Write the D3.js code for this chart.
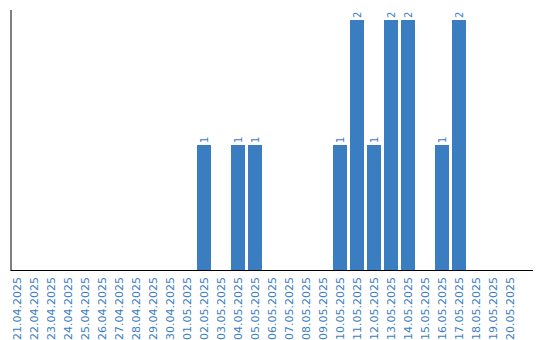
<!DOCTYPE html>
<html>
<head>
<meta charset="utf-8">
<script src="https://cdn.jsdelivr.net/npm/d3@7"></script>
<style>
  body { margin: 0; background: #fff; }
  text { font-family: "DejaVu Sans", Verdana, sans-serif; }
</style>
</head>
<body>
<div id="chart"></div>
<script>
// Data
const dates = ["21.04.2025", "22.04.2025", "23.04.2025", "24.04.2025", "25.04.2025",
  "26.04.2025", "27.04.2025", "28.04.2025", "29.04.2025", "30.04.2025",
  "01.05.2025", "02.05.2025", "03.05.2025", "04.05.2025", "05.05.2025",
  "06.05.2025", "07.05.2025", "08.05.2025", "09.05.2025", "10.05.2025",
  "11.05.2025", "12.05.2025", "13.05.2025", "14.05.2025", "15.05.2025",
  "16.05.2025", "17.05.2025", "18.05.2025", "19.05.2025", "20.05.2025"];
const counts = [0, 0, 0, 0, 0, 0, 0, 0, 0, 0,
  0, 1, 0, 1, 1, 0, 0, 0, 0, 1,
  2, 1, 2, 2, 0, 1, 2, 0, 0, 0];

const data = dates.map((d, i) => ({ date: d, value: counts[i] }));

const width = 540, height = 340;
const blue = "#3a7ec1";

const svg = d3.select("#chart")
  .append("svg")
  .attr("width", width)
  .attr("height", height);

// Scales
const x = d3.scaleBand()
  .domain(dates)
  .range([8.5, 518.5])
  .paddingInner(3 / 17)
  .paddingOuter(1.5 / 17);

const y = d3.scaleLinear()
  .domain([0, 2])
  .range([270, 20]);

// Bars
svg.selectAll("rect.bar")
  .data(data.filter(d => d.value > 0))
  .enter()
  .append("rect")
  .attr("class", "bar")
  .attr("x", d => x(d.date))
  .attr("y", d => y(d.value))
  .attr("width", x.bandwidth())
  .attr("height", d => y(0) - y(d.value))
  .attr("fill", blue);

// Value labels on top of bars, rotated
svg.selectAll("text.val")
  .data(data.filter(d => d.value > 0))
  .enter()
  .append("text")
  .attr("class", "val")
  .attr("transform", d => `translate(${x(d.date) + x.bandwidth() / 2 + 3.5},${y(d.value) - 2}) rotate(-90)`)
  .attr("font-size", 10)
  .attr("fill", blue)
  .text(d => d.value);

// Axes (plain lines, no ticks)
svg.append("line")
  .attr("x1", 11).attr("x2", 11)
  .attr("y1", 10).attr("y2", 270.5)
  .attr("stroke", "#000");

svg.append("line")
  .attr("x1", 10.5).attr("x2", 533)
  .attr("y1", 270.5).attr("y2", 270.5)
  .attr("stroke", "#000");

// Date labels
svg.selectAll("text.date")
  .data(dates)
  .enter()
  .append("text")
  .attr("class", "date")
  .attr("transform", d => `translate(${x(d) + x.bandwidth() / 2 + 4},277) rotate(-90)`)
  .attr("text-anchor", "end")
  .attr("font-size", 11)
  .attr("fill", blue)
  .text(d => d);
</script>
</body>
</html>
